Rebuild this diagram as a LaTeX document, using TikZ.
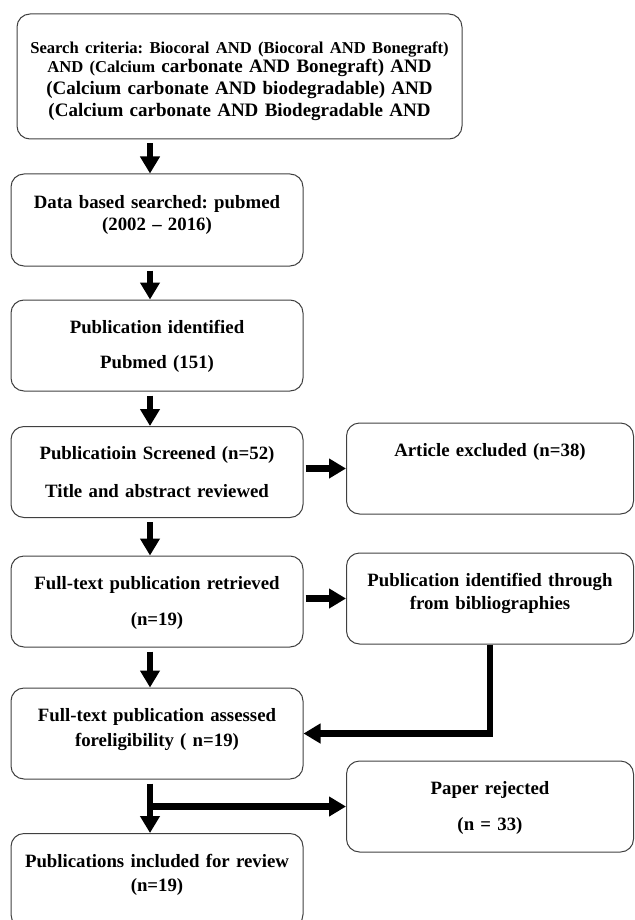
\documentclass[tikz,border=0pt]{standalone}
\usepackage{fontspec}
\setmainfont{Liberation Serif}
\frenchspacing
\usetikzlibrary{shapes,arrows.meta}
\tikzstyle{block} = [rectangle, draw=black!75, line width=1pt,
    text width=292pt, text centered, rounded corners=13pt, inner sep=0pt,
    text height=33pt, text depth=58pt, font=\fontsize{18.8}{23}\selectfont\bfseries]
\tikzstyle{block_side} = [block, text width=287pt]
\tikzstyle{block_top} = [block, text width=445pt, text height=40pt, text depth=85pt,
    font=\fontsize{19}{22}\selectfont\bfseries]
\tikzstyle{line} = [draw, line width=6.5pt, -{Triangle[width=19pt,length=17pt]}]
\newcommand{\smallpart}{\fontsize{16.6}{22}\selectfont}

\begin{document}
\begin{tikzpicture}[x=1pt, y=1pt, node distance = auto]
    \useasboundingbox (0,0) rectangle (634,-920);
    \clip (0,0) rectangle (634,-920);
    % Place nodes
    \node [block_top] (1) at (239.5,-76.5) {{\smallpart Search criteria: Biocoral AND (Biocoral AND Bonegraft)}\\[-3pt] {\smallpart AND (Calcium} carbonate AND Bonegraft) AND\\ (Calcium carbonate AND biodegradable) AND\\ (Calcium carbonate AND Biodegradable AND};
    \node [block, below of=1, node distance=143.5pt, xshift=-82.5pt, text height=34pt] (2) {Data based searched: pubmed\\[-1pt] (2002 -- 2016)};
    \node [block, below of=2, node distance=125.5pt] (3) {Publication identified\\[12pt] Pubmed (151)};
    \node [block, below of=3, node distance=126.5pt] (4) {Publicatioin Screened (n=52)\\[15pt] Title and abstract reviewed};
    \node [block_side, right of=4, node distance=333pt, yshift=3.5pt] (8) {Article excluded (n=38)};
    \node [block, below of=4, node distance=129.5pt] (5) {Full-text publication retrieved\\[13pt] (n=19)};
    \node [block_side, right of=5, node distance=333pt, yshift=3pt] (9) {Publication identified through\\ from bibliographies};
    \node [block, below of=5, node distance=132pt] (6) {Full-text publication assessed\\[2pt] foreligibility ( n=19)};
    \node [block_side, right of=6, node distance=333pt, yshift=-73pt] (10) {Paper rejected\\[13pt] (n = 33)};
    \node [block, below of=6, node distance=147pt, text height=34pt, text depth=60pt] (7) {Publications included for review\\[1pt] (n=19)};

    % Draw edges
    \coordinate (ax) at (150,0);
    \path [line, shorten <=4pt] (1.south -| ax) -- (2.north -| ax);
    \path [line, shorten <=4pt] (2.south -| ax) -- (3.north -| ax);
    \path [line, shorten <=4pt] (3.south -| ax) -- (4.north -| ax);
    \path [line, shorten <=4pt] (4.south -| ax) -- (5.north -| ax);
    \path [line, shorten <=4pt] (5.south -| ax) -- (6.north -| ax);
    \path [line, shorten <=4pt] (6.south -| ax) -- (7.north -| ax);
    \path [line, shorten <=2pt] (4.east |- 8.west) -- (8.west);
    \path [line, shorten <=2pt] (5.east |- 9.west) -- (9.west);
    \path [line] (9.south) |- (6.east);
    \path [line] (ax |- 10.west) -- (10.west);
\end{tikzpicture}
\end{document}
